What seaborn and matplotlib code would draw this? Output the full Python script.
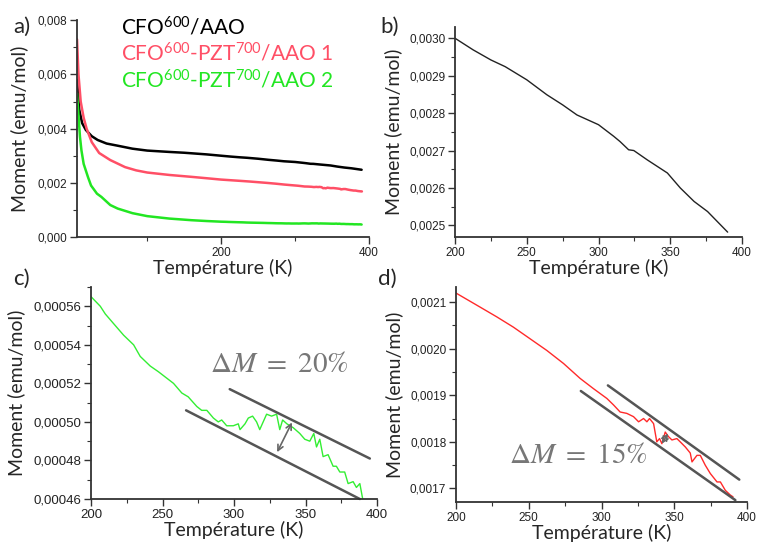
import numpy as np
import matplotlib
matplotlib.use('Agg')
import matplotlib.pyplot as plt
from matplotlib.ticker import MultipleLocator, FuncFormatter
import seaborn as sns

sns.set_style('ticks')
plt.rcParams['font.family'] = ['Liberation Sans', 'DejaVu Sans']
plt.rcParams['mathtext.fontset'] = 'stix'
plt.rcParams['mathtext.default'] = 'regular'

# ---- data ----
# low temperature part (only in panel a)
temp_low_cfo = [5, 8, 12, 17, 25, 33, 45, 60, 80, 100, 130, 150, 180]
moment_low_cfo = [0.0058, 0.0047, 0.0042, 0.00395, 0.00372, 0.00358, 0.00345, 0.00337, 0.00326, 0.00319, 0.00314, 0.00311, 0.00305]

temp_low_pzt1 = [5, 7, 10, 14, 18, 25, 35, 50, 70, 85, 100, 130, 160, 180]
moment_low_pzt1 = [0.0073, 0.006, 0.005, 0.0044, 0.0040, 0.0035, 0.0031, 0.00284, 0.00258, 0.00246, 0.00238, 0.00229, 0.00222, 0.00217]

temp_low_pzt2 = [5, 7, 9, 11, 14, 20, 24, 32, 38, 50, 60, 80, 100, 130, 160, 180]
moment_low_pzt2 = [0.0053, 0.0045, 0.0037, 0.0032, 0.0027, 0.0022, 0.0019, 0.0016, 0.00148, 0.00118, 0.00105, 0.00088, 0.00077, 0.00068, 0.00062, 0.00059]

# 200-390 K, CFO600/AAO (panel b)
temp_cfo = [200, 212.6, 225, 235, 250, 264, 275, 285, 300, 310.6, 315, 321, 324.6, 334, 348, 357, 366.6, 376, 390]
moment_cfo = [0.00300, 0.002969, 0.002942, 0.002924, 0.002889, 0.002849, 0.002822, 0.002795, 0.002769, 0.002738,
              0.002724, 0.002702, 0.002700, 0.002675, 0.00264, 0.0026, 0.002564, 0.002537, 0.002482]

# 200-390 K, CFO600-PZT700/AAO 2 (panel c)
temp_pzt2 = [200, 206.5, 210, 215.8, 222.8, 229.8, 234.4, 241.4, 247.2, 250.7, 257.7, 263.5, 268, 274, 277.4, 281,
             285.6, 289, 291.4, 294.9, 299.5, 303, 304.2, 307.7, 310, 313, 315.8, 318, 321, 322.8, 326.3, 329.8, 332,
             334, 337, 341.4, 346, 349.5, 353, 355.8, 357.7, 360, 362.3, 365.8, 369.3, 371.6, 374, 377.4, 379.8,
             383.3, 385.6, 388, 390]
moment_pzt2 = [0.000565, 0.00056, 0.000556, 0.000551, 0.000545, 0.00054, 0.000534, 0.000529, 0.000526, 0.000524,
               0.00052, 0.000515, 0.000513, 0.000508, 0.000506, 0.000506, 0.000502, 0.0005, 0.000501, 0.000498,
               0.000498, 0.000499, 0.000496, 0.000499, 0.000502, 0.000503, 0.0005, 0.000496, 0.000501, 0.000504,
               0.000503, 0.000504, 0.000496, 0.000501, 0.000499, 0.000497, 0.000494, 0.000491, 0.00049, 0.000494,
               0.000487, 0.000491, 0.000482, 0.000483, 0.000477, 0.000477, 0.000474, 0.000474, 0.000468, 0.000469,
               0.000466, 0.000468, 0.00046]

# 200-390 K, CFO600-PZT700/AAO 1 (panel d)
temp_pzt1 = [200, 216.5, 228, 239.4, 250.9, 262.4, 273.9, 285.3, 294.5, 303.7, 308.3, 312.8, 317.4, 322, 325.5,
             328.9, 331.2, 333, 335.8, 338, 339.9, 341.5, 343.8, 346.1, 348.4, 351.8, 354.1, 357.6, 361, 362.2,
             365.6, 367.9, 371.3, 374.8, 379.4, 381.7, 385.1, 388.5, 390.4]
moment_pzt1 = [0.002119, 0.002089, 0.002068, 0.002046, 0.002021, 0.001996, 0.001968, 0.001936, 0.001914, 0.001893,
               0.001879, 0.001864, 0.001861, 0.001854, 0.001843, 0.00185, 0.001843, 0.00185, 0.001839, 0.0018,
               0.001807, 0.001796, 0.001821, 0.001811, 0.001804, 0.001807, 0.0018, 0.001789, 0.001776, 0.001757,
               0.001771, 0.001771, 0.00175, 0.001732, 0.001714, 0.001714, 0.001696, 0.001686, 0.001682]

labels = [r'CFO$^{600}$/AAO', r'CFO$^{600}$-PZT$^{700}$/AAO 1', r'CFO$^{600}$-PZT$^{700}$/AAO 2']
colors = ['black', '#ff4f66', '#22e622']

# guide lines and arrows for the delta M annotations (x list, y list)
guide_c_upper = ([297, 395], [0.000517, 0.000481])
guide_c_lower = ([266.5, 388], [0.000506, 0.00046])
arrow_c = ((341.4, 0.000501), (329.3, 0.000483))
guide_d_upper = ([304.4, 394.7], [0.001921, 0.001719])
guide_d_lower = ([285.8, 392], [0.001909, 0.001675])
arrow_d = ((346.8, 0.001823), (340.4, 0.001791))

W, H = 758, 542
fig = plt.figure(figsize=(W / 100, H / 100), dpi=100)

def px_axes(l, t, r, b):
    return fig.add_axes([l / W, 1 - b / H, (r - l) / W, (b - t) / H])

ax_a = px_axes(77, 20, 369, 237)
ax_b = px_axes(455, 27, 742, 237)
ax_c = px_axes(91, 287, 377, 499)
ax_d = px_axes(456, 287, 747, 502)

label_font = dict(family=['Lato', 'DejaVu Sans'], fontsize=14)

def style_axis(ax, xmaj, xmin, ymaj, ymin, ndec, tsize=8.5, ypad=6):
    sns.despine(ax=ax)
    for s in ['left', 'bottom']:
        ax.spines[s].set_linewidth(1.3)
        ax.spines[s].set_color('#333333')
    ax.xaxis.set_major_locator(MultipleLocator(xmaj))
    ax.xaxis.set_minor_locator(MultipleLocator(xmin))
    ax.yaxis.set_major_locator(MultipleLocator(ymaj))
    ax.yaxis.set_minor_locator(MultipleLocator(ymin))
    ax.yaxis.set_major_formatter(FuncFormatter(lambda v, p: f'{v:.{ndec}f}'.replace('.', ',')))
    ax.tick_params(which='major', direction='out', length=5, width=1, labelsize=tsize, pad=2,
                   color='#333333', labelcolor='#222222')
    ax.tick_params(which='minor', direction='out', length=3, width=0.8, color='#333333')
    ax.set_xlabel('Température (K)', labelpad=0, **label_font)
    ax.set_ylabel('Moment (emu/mol)', labelpad=ypad, **label_font)

# panel a
full = [
    (temp_low_cfo + temp_cfo, moment_low_cfo + moment_cfo),
    (temp_low_pzt1 + temp_pzt1, moment_low_pzt1 + moment_pzt1),
    (temp_low_pzt2 + temp_pzt2, moment_low_pzt2 + moment_pzt2),
]
for (t, m), c in zip(full, colors):
    sns.lineplot(x=t, y=m, ax=ax_a, color=c, linewidth=1.8, sort=False, estimator=None)
ax_a.set_xlim(5, 400)
ax_a.set_ylim(0, 0.00801)
style_axis(ax_a, 200, 100, 0.002, 0.001, 3, ypad=7)
for i, (lab, c) in enumerate(zip(labels, colors)):
    fig.text(121 / W, 1 - (35 + 26.5 * i) / H, lab, color=c, fontsize=15,
             family=['Lato', 'DejaVu Sans'], va='baseline')

# panel b
sns.lineplot(x=temp_cfo, y=moment_cfo, ax=ax_b, color='#222222', linewidth=1.0, sort=False, estimator=None)
ax_b.set_xlim(200, 400)
ax_b.set_ylim(0.002469, 0.00303)
style_axis(ax_b, 50, 25, 0.0001, 0.00005, 4, ypad=5)

# panel c
sns.lineplot(x=temp_pzt2, y=moment_pzt2, ax=ax_c, color='#33ee33', linewidth=1.0, sort=False, estimator=None)
ax_c.set_xlim(200, 400)
ax_c.set_ylim(0.00046, 0.00057)
style_axis(ax_c, 50, 25, 0.00002, 0.00001, 5, tsize=9.5, ypad=6)
for g in (guide_c_upper, guide_c_lower):
    ax_c.plot(g[0], g[1], color='#555555', linewidth=1.8, clip_on=False)
ax_c.annotate('', xy=arrow_c[0], xytext=arrow_c[1],
              arrowprops=dict(arrowstyle='<->', color='#666666', lw=1.2))
ax_c.text(0.66, 0.635, r'$\mathrm{\Delta}\mathit{M}\ \mathrm{=\ 20\%}$', transform=ax_c.transAxes,
          fontsize=21, color='#777777', ha='center', va='center')

# panel d
sns.lineplot(x=temp_pzt1, y=moment_pzt1, ax=ax_d, color='#ff2a2a', linewidth=1.0, sort=False, estimator=None)
ax_d.set_xlim(200, 400)
ax_d.set_ylim(0.001671, 0.002132)
style_axis(ax_d, 50, 25, 0.0001, 0.00005, 4, ypad=5)
for g in (guide_d_upper, guide_d_lower):
    ax_d.plot(g[0], g[1], color='#555555', linewidth=1.8, clip_on=False)
ax_d.annotate('', xy=arrow_d[0], xytext=arrow_d[1],
              arrowprops=dict(arrowstyle='<->', color='#666666', lw=1.2))
ax_d.text(0.42, 0.22, r'$\mathrm{\Delta}\mathit{M}\ \mathrm{=\ 15\%}$', transform=ax_d.transAxes,
          fontsize=21, color='#777777', ha='center', va='center')

# panel letters
for lab, x, y in [('a)', 13, 33), ('b)', 380, 33), ('c)', 13, 285), ('d)', 378, 285)]:
    fig.text(x / W, 1 - y / H, lab, fontsize=16, family=['Lato', 'DejaVu Sans'], va='baseline')

fig.savefig('out.png', dpi=100)
